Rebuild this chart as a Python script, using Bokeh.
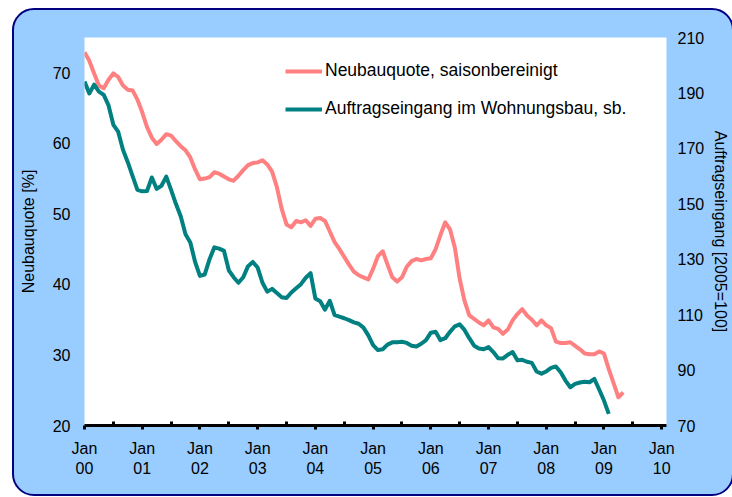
from bokeh.plotting import figure
from bokeh.models import Range1d, LinearAxis, FixedTicker, Legend, LegendItem
from bokeh.embed import file_html
from bokeh.resources import INLINE

# ---- data ----
# Neubauquote, saisonbereinigt [%], monthly from Jan 2000
neubauquote = [72.9, 71.7, 69.9, 68.2, 67.8, 69.0, 69.9, 69.4, 68.2, 67.6, 67.5, 66.2,
               64.4, 62.3, 60.8, 59.9, 60.5, 61.3, 61.1, 60.3, 59.6, 59.0, 58.0, 56.3,
               54.9, 55.0, 55.2, 55.9, 55.7, 55.3, 54.9, 54.7, 55.4, 56.2, 56.9, 57.2,
               57.3, 57.6, 57.0, 56.0, 53.8, 50.7, 48.5, 48.1, 49.0, 48.8, 49.1, 48.3,
               49.3, 49.4, 49.0, 47.5, 46.0, 45.0, 43.9, 42.8, 41.8, 41.3, 41.0, 40.7,
               42.2, 44.0, 44.7, 42.8, 41.0, 40.4, 41.0, 42.5, 43.3, 43.6, 43.4, 43.6,
               43.7, 45.0, 47.0, 48.8, 47.8, 45.2, 40.8, 37.7, 35.6, 35.1, 34.6, 34.2,
               34.9, 33.9, 33.7, 33.0, 33.6, 34.9, 35.8, 36.5, 35.6, 35.0, 34.2, 34.9,
               34.2, 33.8, 31.9, 31.7, 31.7, 31.8, 31.3, 30.8, 30.2, 30.1, 30.1, 30.5,
               30.2, 28.0, 26.0, 24.0, 24.7]
# Auftragseingang im Wohnungsbau, sb. [2005=100], monthly from Jan 2000
auftragseingang = [194.1, 189.8, 193.0, 190.5, 189.3, 185.5, 178.5, 176.0, 169.5, 165.0, 160.0, 155.0,
                   154.5, 154.6, 159.5, 155.4, 156.5, 159.8, 155.0, 150.0, 145.5, 139.0, 136.0, 129.0,
                   124.0, 124.5, 130.0, 134.3, 133.8, 133.0, 126.0, 123.5, 121.5, 123.5, 127.5, 129.0,
                   127.0, 121.5, 118.3, 119.3, 117.8, 116.3, 116.0, 118.0, 119.5, 121.0, 123.3, 125.0,
                   115.8, 114.8, 111.8, 115.0, 109.8, 109.3, 108.7, 108.0, 107.2, 106.7, 105.3, 102.5,
                   99.0, 97.2, 97.5, 99.2, 100.0, 100.0, 100.2, 99.8, 98.8, 98.5, 99.5, 100.8,
                   103.5, 103.8, 100.8, 101.5, 103.8, 105.8, 106.5, 104.5, 101.5, 98.8, 97.8, 97.5,
                   98.3, 96.5, 94.3, 94.2, 95.5, 96.5, 93.5, 93.7, 93.0, 92.6, 89.5, 88.7,
                   89.5, 90.8, 91.3, 89.2, 86.2, 83.8, 85.0, 85.5, 85.8, 85.6, 86.8, 83.0,
                   79.0, 74.2]
year_labels = ["00", "01", "02", "03", "04", "05", "06", "07", "08", "09", "10"]
left_ticks = [20, 30, 40, 50, 60, 70]
right_ticks = [70, 90, 110, 130, 150, 170, 190, 210]

months_p = list(range(len(neubauquote)))
months_a = list(range(len(auftragseingang)))

FONT = "Liberation Sans"
PINK = "#FF8080"
TEAL = "#008080"

p = figure(frame_width=582, frame_height=388,
           x_range=Range1d(0, 121), y_range=Range1d(20, 75),
           output_backend="svg", toolbar_location=None,
           min_border_left=70, min_border_right=63, min_border_top=27, min_border_bottom=69)
p.extra_y_ranges = {"right": Range1d(70, 210)}

p.background_fill_color = "white"
p.border_fill_color = None
p.outline_line_color = None
p.xgrid.visible = False
p.ygrid.visible = False
p.margin = (8, 0, 0, 12)
p.styles = {"border": "2px solid #000080", "border-radius": "22px",
            "background-color": "#99CCFF"}

r1 = p.line(months_p, neubauquote, line_color=PINK, line_width=4, line_join="round")
r2 = p.line(months_a, auftragseingang, line_color=TEAL, line_width=4, line_join="round",
            y_range_name="right")

# x axis
xa = p.xaxis[0]
xa.ticker = FixedTicker(ticks=[12 * i for i in range(len(year_labels))],
                        minor_ticks=[12 * i + 6 for i in range(len(year_labels) - 1)])
xa.major_label_overrides = {12 * i: "Jan\n" + y for i, y in enumerate(year_labels)}
xa.axis_line_color = "black"
xa.axis_line_width = 3
xa.major_tick_line_color = "black"
xa.major_tick_line_width = 3
xa.major_tick_in = 0
xa.major_tick_out = 4
xa.minor_tick_line_color = "black"
xa.minor_tick_line_width = 3
xa.minor_tick_in = 4
xa.minor_tick_out = 0
xa.major_label_standoff = 10
xa.major_label_text_font = FONT
xa.major_label_text_font_size = "16px"
xa.major_label_text_color = "black"

# left axis
ya = p.yaxis[0]
ya.ticker = FixedTicker(ticks=left_ticks)
ya.axis_line_color = None
ya.major_tick_line_color = None
ya.major_tick_in = 0
ya.major_tick_out = 0
ya.minor_tick_line_color = None
ya.minor_tick_in = 0
ya.minor_tick_out = 0
ya.major_label_standoff = 14
ya.major_label_text_font = FONT
ya.major_label_text_font_size = "16px"
ya.major_label_text_color = "black"
ya.axis_label = "Neubauquote [%]"
ya.axis_label_text_font = FONT
ya.axis_label_text_font_size = "16px"
ya.axis_label_text_font_style = "normal"
ya.axis_label_text_color = "black"
ya.axis_label_standoff = 13

# right axis
ra = LinearAxis(y_range_name="right", ticker=FixedTicker(ticks=right_ticks))
ra.axis_line_color = None
ra.major_tick_line_color = None
ra.major_tick_in = 0
ra.major_tick_out = 0
ra.minor_tick_line_color = None
ra.minor_tick_in = 0
ra.minor_tick_out = 0
ra.major_label_standoff = 11
ra.major_label_text_font = FONT
ra.major_label_text_font_size = "16px"
ra.major_label_text_color = "black"
ra.axis_label = "Auftragseingang [2005=100]"
ra.axis_label_text_font = FONT
ra.axis_label_text_font_size = "16px"
ra.axis_label_text_font_style = "normal"
ra.axis_label_text_color = "black"
ra.axis_label_standoff = 5
p.add_layout(ra, "right")

legend = Legend(items=[LegendItem(label="Neubauquote, saisonbereinigt", renderers=[r1]),
                       LegendItem(label="Auftragseingang im Wohnungsbau, sb.", renderers=[r2])],
                location=(201, 306))
legend.padding = 0
legend.margin = 0
legend.spacing = 17
legend.glyph_width = 37
legend.glyph_height = 20
legend.label_height = 20
legend.label_standoff = 3
legend.border_line_color = None
legend.background_fill_alpha = 0
legend.label_text_font = FONT
legend.label_text_font_size = "17.5px"
legend.label_text_color = "black"
p.add_layout(legend, "center")

open("out.html", "w").write(file_html(p, INLINE))
